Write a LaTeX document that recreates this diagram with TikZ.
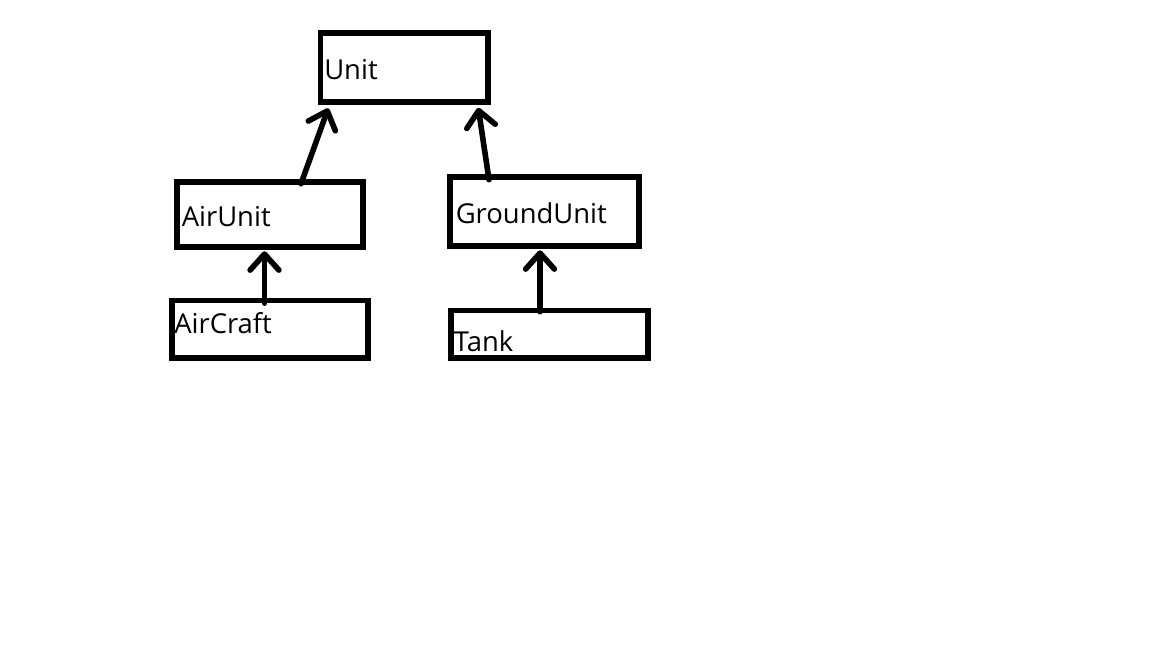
\documentclass[tikz,border=0pt]{standalone}
\usepackage{fontspec}
\setmainfont{Open Sans}
\usetikzlibrary{arrows.meta,calc}

\def\boxLine{5.6}

\tikzset{
    px/.style = {x = 0.025cm, y = -0.025cm},
    classbox/.style = {draw, line width = \boxLine*0.025cm, inner sep = 0pt},
    classname/.style = {anchor = base west, inner sep = 0pt, font = \fontsize{19.5pt}{23pt}\selectfont},
    inherit/.style = {line width = \boxLine*0.025cm, line cap = round,
        -{Straight Barb[length = 0.4cm, width = 0.72cm, line cap = round, line join = round]}},
}

\begin{document}
\begin{tikzpicture}[px]
            \useasboundingbox (0,0) rectangle (1152,648);
            % class boxes
            \node [classbox, minimum width = 167.5*0.025cm, minimum height = 69*0.025cm]
                (unit) at (404.25,67.5) {};
            \node [classbox, minimum width = 186*0.025cm, minimum height = 65*0.025cm]
                (airunit) at (270,214.5) {};
            \node [classbox, minimum width = 189*0.025cm, minimum height = 69*0.025cm]
                (groundunit) at (544.5,211.5) {};
            \node [classbox, minimum width = 196*0.025cm, minimum height = 57.5*0.025cm]
                (aircraft) at (270,329.25) {};
            \node [classbox, minimum width = 197*0.025cm, minimum height = 47.5*0.025cm]
                (tank) at (549.5,334.25) {};
            % class names
            \node [classname] (unitname) at (324,79.3) {Unit};
            \node [classname] (airunitname) at (181.5,226.7) {AirUnit};
            \node [classname] (groundunitname) at (455.5,223.3) {GroundUnit};
            \node [classname] (aircraftname) at (174,333.3) {AirCraft};
            \node [classname] (tankname) at (453.5,351.7) {Tank};
            % inheritance
            \draw [inherit] ($(airunit.north)+(31,4.5)$) -- ($(unit.south)+(-76,3.5)$);
            \draw [inherit] ($(groundunit.north)+(-55.5,5.5)$) -- ($(unit.south)+(74,3)$);
            \draw [inherit] ($(aircraft.north)+(-5.5,5.5)$) -- ($(airunit.south)+(-5.5,1.5)$);
            \draw [inherit] ($(tank.north)+(-9.5,4)$) -- ($(groundunit.south)+(-4.5,1.5)$);
        \end{tikzpicture}
\end{document}
